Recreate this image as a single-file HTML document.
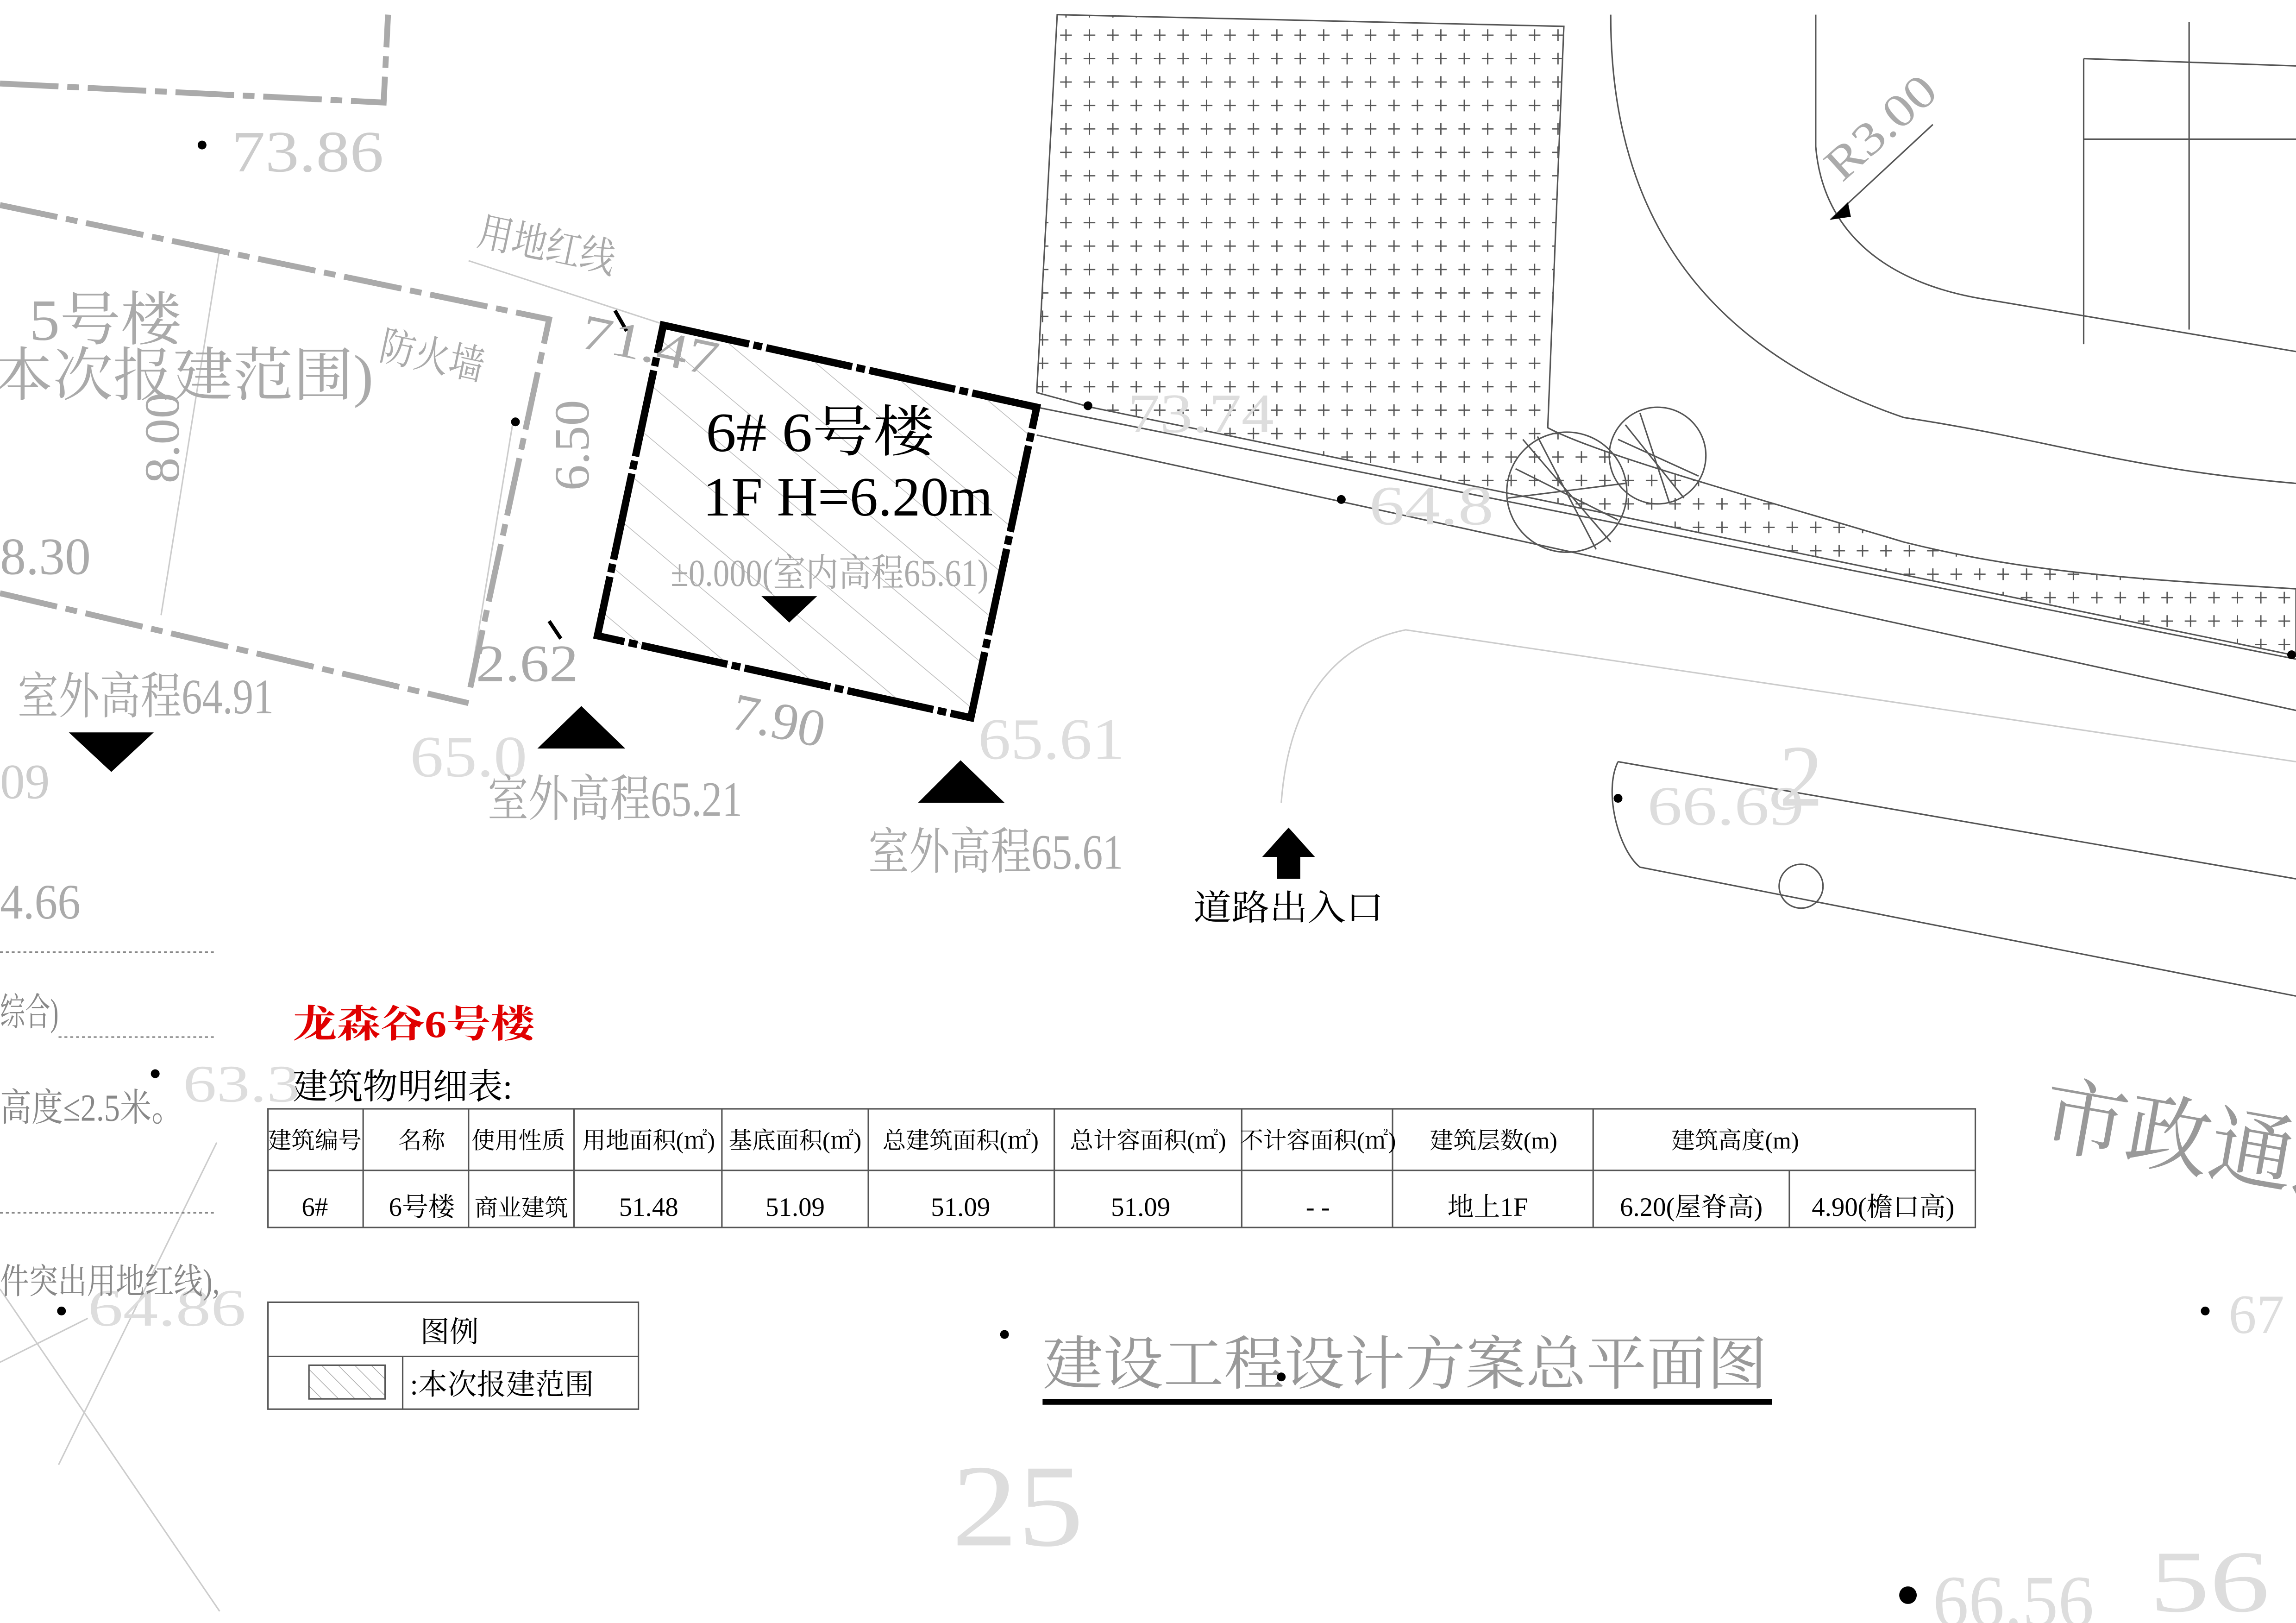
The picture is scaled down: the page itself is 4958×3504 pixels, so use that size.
<!DOCTYPE html>
<html><head><meta charset="utf-8"><style>
html,body{margin:0;padding:0;background:#fff;}
svg{display:block;}
text{font-family:"Liberation Serif","Noto Serif CJK SC","Noto Sans CJK SC",serif;}
</style></head><body>
<svg width="4958" height="3504" viewBox="0 0 1568 1108" preserveAspectRatio="none" xmlns="http://www.w3.org/2000/svg">
<defs>
<pattern id="plus" width="16" height="16" patternUnits="userSpaceOnUse">
<path d="M4 8h8M8 4v8" stroke="#555" stroke-width="0.9"/>
</pattern>
<pattern id="hatch" width="28" height="28" patternUnits="userSpaceOnUse" patternTransform="rotate(-50)">
<line x1="0" y1="0" x2="0" y2="28" stroke="#bbb" stroke-width="1"/>
</pattern>
<pattern id="hatch2" width="8" height="8" patternUnits="userSpaceOnUse" patternTransform="rotate(-45)">
<line x1="0" y1="0" x2="0" y2="8" stroke="#999" stroke-width="0.8"/>
</pattern>
</defs>
<rect width="1568" height="1108" fill="#fff"/>

<g stroke="#ccc" stroke-width="1" fill="none">
<path d="M0 880 L150 1100"/><path d="M0 930 L60 900"/>
<path d="M148 780 L40 1000"/>
<path d="M875 548 C880 480 910 440 960 430 L1568 520"/>
<path d="M320 178 L455 222"/><path d="M150 170 L110 420"/>
<path d="M350 290 L322 460"/>
</g>
<g stroke="#555" stroke-width="1" fill="none">
<path d="M708 297 L1568 485"/>
<path d="M708 278 L1568 450"/>
<path d="M1100 10 C1100 120 1140 230 1300 285 C1400 300 1450 320 1568 330"/>
<path d="M1240 10 L1240 100 C1245 160 1290 195 1360 205 L1568 240"/>
<path d="M1423 40 L1423 235"/><path d="M1495 15 L1495 225"/>
<path d="M1423 40 L1568 45"/><path d="M1423 95 L1568 95"/>
<path d="M1105 520 L1568 600"/>
<path d="M1105 520 C1095 540 1105 580 1120 592 L1568 680"/>
<circle cx="1230" cy="605" r="15"/>
<circle cx="1070" cy="336" r="41"/><circle cx="1132" cy="311" r="33"/>
<path d="M1035 320 L1105 355 M1040 300 L1100 370 M1050 298 L1090 375 M1030 340 L1110 330 M1105 300 L1160 325 M1110 290 L1150 340 M1120 282 L1140 343"/>
<path d="M1320 85 L1250 150"/>
</g>
<polygon points="1250,150 1262,138 1264,148" fill="#000"/>

<path d="M722 10 L1068 18 L1057 292 C1090 310 1200 340 1300 370 C1380 390 1450 395 1568 402 L1568 448 L1565 447 L745 278 L708 268 Z" fill="url(#plus)" stroke="#555" stroke-width="1"/>

<g stroke="#aaa" stroke-width="4" fill="none" stroke-dasharray="40 6 8 6">
<path d="M0 140 L375 218 L320 475"/>
<path d="M0 405 L320 480"/>
<path d="M0 57 L262 70 L265 10"/>
</g>

<polygon points="453,222 708,278 663,490 408,434" fill="url(#hatch)" stroke="#000" stroke-width="5" stroke-dasharray="60 3 6 3"/>
<g stroke="#000" stroke-width="2.5"><path d="M420 212 L428 226"/><path d="M375 424 L383 436"/></g>

<g fill="#aaa" font-size="40" lengthAdjust="spacingAndGlyphs">
<text x="20" y="232" textLength="104" lengthAdjust="spacingAndGlyphs">5号楼</text>
<text x="-5" y="270" textLength="260" lengthAdjust="spacingAndGlyphs">本次报建范围)</text>
<text x="158" y="117" fill="#ccc" textLength="104" lengthAdjust="spacingAndGlyphs">73.86</text>
<text x="0" y="392" font-size="36" textLength="62" lengthAdjust="spacingAndGlyphs">8.30</text>
<text x="0" y="627" font-size="34" textLength="55" lengthAdjust="spacingAndGlyphs">4.66</text>
<text x="0" y="545" font-size="34" fill="#ccc">09</text>
<text x="280" y="530" font-size="40" fill="#ddd" textLength="80" lengthAdjust="spacingAndGlyphs">65.0</text>
<text x="668" y="518" font-size="40" fill="#ddd" textLength="100" lengthAdjust="spacingAndGlyphs">65.61</text>
<text x="935" y="358" font-size="38" fill="#ddd" textLength="85" lengthAdjust="spacingAndGlyphs">64.8</text>
<text x="770" y="295" font-size="38" fill="#ddd" textLength="100" lengthAdjust="spacingAndGlyphs">73.74</text>
<text x="1125" y="563" font-size="38" fill="#ddd" textLength="107" lengthAdjust="spacingAndGlyphs">66.69</text>
<text x="1215" y="550" font-size="60" fill="#ddd">2</text>
<text x="650" y="1055" font-size="80" fill="#ddd" textLength="90" lengthAdjust="spacingAndGlyphs">25</text>
<text x="1320" y="1110" font-size="50" fill="#ddd" textLength="110" lengthAdjust="spacingAndGlyphs">66.56</text>
<text x="1468" y="1100" font-size="60" fill="#ddd" textLength="82" lengthAdjust="spacingAndGlyphs">56</text>
<text x="1522" y="910" font-size="38" fill="#ddd">67</text>
<text x="60" y="905" font-size="36" fill="#ddd" textLength="108" lengthAdjust="spacingAndGlyphs">64.86</text>
<text x="125" y="752" font-size="36" fill="#ddd" textLength="80" lengthAdjust="spacingAndGlyphs">63.3</text>
<text x="12" y="487" font-size="34" textLength="175" lengthAdjust="spacingAndGlyphs">室外高程64.91</text>
<text x="333" y="557" font-size="34" textLength="174" lengthAdjust="spacingAndGlyphs">室外高程65.21</text>
<text x="593" y="593" font-size="34" textLength="174" lengthAdjust="spacingAndGlyphs">室外高程65.61</text>
<text x="458" y="400" font-size="26" textLength="217" lengthAdjust="spacingAndGlyphs">±0.000(室内高程65.61)</text>
<text x="325" y="465" font-size="36" textLength="70" lengthAdjust="spacingAndGlyphs">2.62</text>
<text x="0" y="0" font-size="36" transform="translate(498,497) rotate(12)" textLength="64" lengthAdjust="spacingAndGlyphs">7.90</text>
<text x="0" y="0" font-size="34" transform="translate(395,237) rotate(12)" textLength="95" lengthAdjust="spacingAndGlyphs">71.47</text>
<text x="0" y="0" font-size="28" transform="translate(258,245) rotate(12)" textLength="72" lengthAdjust="spacingAndGlyphs">防火墙</text>
<text x="0" y="0" font-size="28" transform="translate(325,167) rotate(12)" textLength="95" lengthAdjust="spacingAndGlyphs">用地红线</text>
<text x="0" y="0" font-size="34" transform="translate(122,330) rotate(-90)" textLength="62" lengthAdjust="spacingAndGlyphs">8.00</text>
<text x="0" y="0" font-size="34" transform="translate(402,335) rotate(-90)" textLength="62" lengthAdjust="spacingAndGlyphs">6.50</text>
<text x="0" y="0" font-size="32" transform="translate(1258,125) rotate(-42)" textLength="90" lengthAdjust="spacingAndGlyphs">R3.00</text>
<text x="0" y="0" font-size="58" fill="#999" transform="translate(1392,780) rotate(10)">市政通道</text>
<text x="0" y="700" font-size="26" fill="#888" textLength="40" lengthAdjust="spacingAndGlyphs">综合)</text>
<text x="0" y="765" font-size="26" fill="#888" textLength="125" lengthAdjust="spacingAndGlyphs">高度≤2.5米。</text>
<text x="0" y="883" font-size="24" fill="#888" textLength="150" lengthAdjust="spacingAndGlyphs">件突出用地红线),</text>
<text x="712" y="945" font-size="40" fill="#999" textLength="495" lengthAdjust="spacingAndGlyphs">建设工程设计方案总平面图</text>
</g>
<g stroke="#888" stroke-width="1" stroke-dasharray="2 2"><path d="M0 650 H148"/><path d="M0 828 H148"/><path d="M40 708 H148"/></g>

<g fill="#000">
<polygon points="47,500 105,500 76,527"/>
<polygon points="367,511 427,511 397,482"/>
<polygon points="627,548 686,548 656,519"/>
<polygon points="520,407 558,407 539,425"/>
<polygon points="862,585 898,585 880,565"/>
<rect x="872" y="584" width="16" height="16"/>
</g>
<g fill="#000">
<circle cx="138" cy="99" r="3"/><circle cx="106" cy="733" r="3"/><circle cx="42" cy="895" r="3"/>
<circle cx="686" cy="911" r="3"/><circle cx="1506" cy="895" r="3"/><circle cx="1105" cy="545" r="3"/>
<circle cx="743" cy="277" r="3"/><circle cx="1565" cy="447" r="3"/><circle cx="916" cy="341" r="3"/>
<circle cx="1303" cy="1089" r="6"/><circle cx="875" cy="940" r="3"/><circle cx="352" cy="288" r="3"/>
</g>

<text x="482" y="308" font-size="38" fill="#000" textLength="156" lengthAdjust="spacingAndGlyphs">6# 6号楼</text>
<text x="480" y="352" font-size="38" fill="#000" textLength="198" lengthAdjust="spacingAndGlyphs">1F H=6.20m</text>
<text x="815" y="628" font-size="24" fill="#000" textLength="130" lengthAdjust="spacingAndGlyphs">道路出入口</text>

<text x="200" y="708" font-size="26" fill="#e00000" font-weight="bold" textLength="165" lengthAdjust="spacingAndGlyphs">龙森谷6号楼</text>
<text x="200" y="750" font-size="24" fill="#000" textLength="150" lengthAdjust="spacingAndGlyphs">建筑物明细表:</text>
<g stroke="#555" stroke-width="1" fill="none">
<rect x="183" y="757" width="1166" height="81"/>
<path d="M183 799 H1349"/>
<path d="M248 757 V838 M320 757 V838 M392 757 V838 M493 757 V838 M593 757 V838 M720 757 V838 M848 757 V838 M951 757 V838 M1088 757 V838 M1222 799 V838"/>
</g>
<g font-size="16" fill="#000" text-anchor="middle">
<text x="215" y="784">建筑编号</text><text x="288" y="784">名称</text><text x="354" y="784">使用性质</text>
<text x="443" y="784">用地面积(㎡)</text><text x="543" y="784">基底面积(㎡)</text><text x="656" y="784">总建筑面积(㎡)</text>
<text x="784" y="784">总计容面积(㎡)</text><text x="900" y="784">不计容面积(㎡)</text><text x="1020" y="784">建筑层数(m)</text>
<text x="1185" y="784">建筑高度(m)</text>
</g>
<g font-size="18" fill="#000" text-anchor="middle">
<text x="215" y="830">6#</text><text x="288" y="830">6号楼</text><text x="356" y="830" font-size="16">商业建筑</text>
<text x="443" y="830">51.48</text><text x="543" y="830">51.09</text><text x="656" y="830">51.09</text>
<text x="779" y="830">51.09</text><text x="900" y="830">- -</text><text x="1016" y="830">地上1F</text>
<text x="1155" y="830">6.20(屋脊高)</text><text x="1286" y="830">4.90(檐口高)</text>
</g>

<g stroke="#555" stroke-width="1" fill="none">
<rect x="183" y="889" width="253" height="73"/>
<path d="M183 926 H436 M275 926 V962"/>
</g>
<rect x="211" y="932" width="52" height="23" fill="url(#hatch2)" stroke="#555" stroke-width="1"/>
<text x="307" y="916" font-size="20" fill="#000" text-anchor="middle">图例</text>
<text x="280" y="952" font-size="20" fill="#000">:本次报建范围</text>

<rect x="712" y="955" width="498" height="4" fill="#000"/>
</svg>
</body></html>
